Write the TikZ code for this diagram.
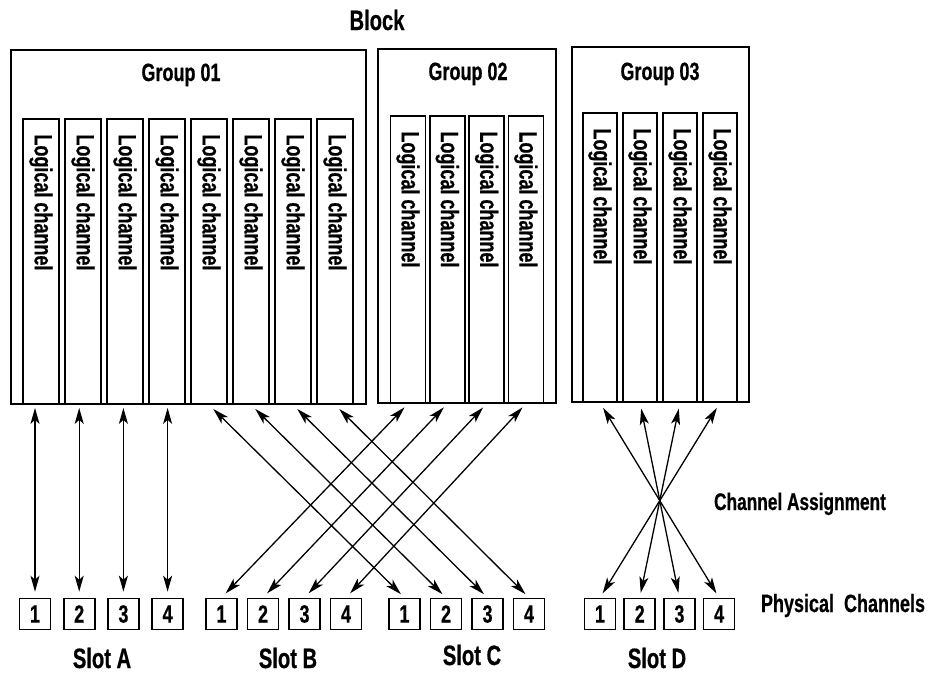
\documentclass[tikz,border=0pt]{standalone}
\usepackage{fontspec}
\usetikzlibrary{arrows.meta,calc}
\newfontfamily\lblfont{Liberation Sans}[FakeStretch=0.72,FakeBold=0.6]
\newcommand{\fs}[1]{\lblfont\bfseries\fontsize{#1}{#1}\selectfont}
\begin{document}
\begin{tikzpicture}[x=1pt,y=-1pt,
  grp/.style={draw, line width=1.8pt, inner sep=0pt},
  lch/.style={draw, line width=1.5pt, inner sep=0pt},
  lchtxt/.style={rotate=-90, anchor=west, inner sep=0pt, font=\fs{25}},
  pch/.style={draw, line width=1.6pt, inner sep=0pt, minimum width=31pt, minimum height=31pt, font=\fs{25}},
  lbl/.style={inner sep=0pt, anchor=base},
  tip/.tip={Stealth[length=16pt,width=9pt,inset=4pt]},
  link/.style={line width=1.3pt, tip-tip, shorten <=6pt, shorten >=5pt}
]
\useasboundingbox (0,0) rectangle (938,675);

% groups
\node[grp, minimum width=355pt, minimum height=354pt] (g1) at (188.5,227) {};
\node[grp, minimum width=178pt, minimum height=354pt] (g2) at (467,226) {};
\node[grp, minimum width=177pt, minimum height=355pt] (g3) at (660.5,224.5) {};

\node[lbl, font=\fs{28}] (block) at (377,30) {Block};
\node[lbl, font=\fs{25}] (g1lbl) at (181,81) {Group 01};
\node[lbl, font=\fs{25}] (g2lbl) at (468,80) {Group 02};
\node[lbl, font=\fs{25}] (g3lbl) at (660,80) {Group 03};

% logical channels
\foreach \i in {1,...,8}{
  \node[lch, minimum width=36pt, minimum height=285pt] (a\i) at ({41+42*(\i-1)},261.5) {};
  \node[lchtxt] (ta\i) at ($(a\i.north)+(0,16)$) {Logical channel};
}
\foreach \i in {1,...,4}{
  \node[lch, minimum width=35pt, minimum height=287pt] (b\i) at ({408+39.3*(\i-1)},259.5) {};
  \node[lchtxt] (tb\i) at ($(b\i.north)+(0,16)$) {Logical channel};
  \node[lch, minimum width=34pt, minimum height=289pt] (c\i) at ({600+40*(\i-1)},257.5) {};
  \node[lchtxt] (tc\i) at ($(c\i.north)+(0,16)$) {Logical channel};
}

% physical channels
\foreach \i in {1,...,4}{
  \node[pch] (pA\i) at ({35+44.2*(\i-1)},614) {\i};
  \node[pch] (pB\i) at ({221.5+41.5*(\i-1)},614) {\i};
  \node[pch] (pC\i) at ({404.5+41.5*(\i-1)},614) {\i};
  \node[pch] (pD\i) at ({600+39.7*(\i-1)},614) {\i};
}

\node[lbl, font=\fs{28}] (slA) at (102,668) {Slot A};
\node[lbl, font=\fs{28}] (slB) at (288,668) {Slot B};
\node[lbl, font=\fs{28}] (slC) at (472,665) {Slot C};
\node[lbl, font=\fs{28}] (slD) at (657,668) {Slot D};
\node[lbl, font=\fs{25}] (phys) at (843,612) {Physical\ \ Channels};
\node[lbl, font=\fs{24}] (assign) at (800,510) {Channel Assignment};

% connectors
\foreach \i in {1,...,4}{
  \draw[link, shorten >=3pt] (pA\i.north) -- (pA\i.north |- g1.south);
  \draw[link] (pB\i.north) -- (b\i.south);
  \pgfmathtruncatemacro{\j}{\i+4}
  \draw[link] (a\j.south) -- (pC\i.north);
  \pgfmathtruncatemacro{\k}{5-\i}
  \draw[link] (c\i.south) -- (pD\k.north);
}
\end{tikzpicture}
\end{document}
